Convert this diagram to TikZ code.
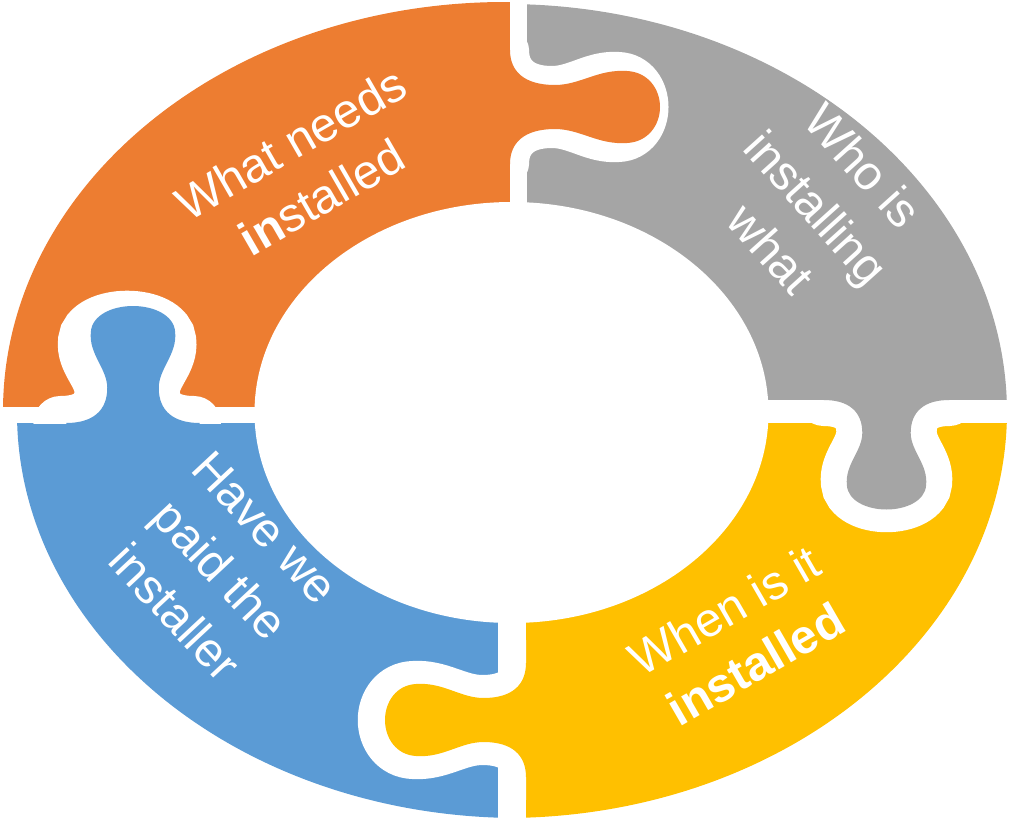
\documentclass[tikz,border=0pt]{standalone}
\usepackage{fontspec}
\setmainfont{Liberation Sans}

\definecolor{pzorange}{HTML}{ED7D31}
\definecolor{pzgray}{HTML}{A5A5A5}
\definecolor{pzyellow}{HTML}{FFC000}
\definecolor{pzblue}{HTML}{5B9BD5}

% outline of one tab: base on the edge of its piece, pointing along +x
\newcommand\tabcurve{(0,-57) .. controls (0,-35) and (15,-22) .. (45,-22)
  .. controls (70,-22) and (88,-38) .. (117,-36)
  .. controls (138,-35) and (150,-18) .. (150,0)
  .. controls (150,18) and (138,35) .. (117,36)
  .. controls (88,38) and (70,22) .. (45,22)
  .. controls (15,22) and (0,35) .. (0,57)}

% #1 colour, #2 placement, #3 width of the white cut, #4 shape of the cut
\newcommand\puzzletab[4]{%
\begin{scope}[#2]
  \begin{scope}
    \clip (0,-300) rectangle (300,300);
    \draw[white, line width=#3, line cap=round, #4] \tabcurve;
  \end{scope}
  \fill[#1] (-40,-57) -- \tabcurve -- (-40,57) -- cycle;
\end{scope}
}

% one quarter of the ring, cut from its own outer ellipse
% #1 colour, #2 centre, #3 vertical radius, #4 quarter
\newcommand\piece[4]{%
\begin{scope}
  \clip #2 ellipse [x radius=502, y radius=#3];
  \fill[#1] #4;
\end{scope}
}

\begin{document}
\begin{tikzpicture}[x=1pt, y=-1pt,
    piece text/.style={text=white, align=center,
      font=\fontsize{48}{62}\selectfont}]
	\useasboundingbox (0,0) rectangle (1010,822);

	%% the four quarters
	\piece{pzorange}{(505,411)}{409}{(0,0) rectangle (510,407)}
	\piece{pzgray}{(505,413)}{409}{(527,0) rectangle (1010,400)}
	\piece{pzyellow}{(505,411)}{407}{(526,423) rectangle (1010,822)}
	\piece{pzblue}{(519,413)}{405}{(0,423) rectangle (498,822)}

	%% tabs
	\puzzletab{pzorange}{shift={(510,107)}}{38}{xscale=0.93}
	\puzzletab{pzblue}{shift={(133,423)}, rotate=90, xscale=0.78, yscale=1.17}{54}{shift={(0,-5)}, xscale=0.9}
	\puzzletab{pzgray}{shift={(886.5,400)}, rotate=-90, xscale=0.73, yscale=1.1}{52}{xscale=0.97}
	\puzzletab{pzyellow}{shift={(526,720)}, rotate=180, xscale=0.94}{46}{xscale=1.03}

	% hole in the middle
	\fill[white] (511.5,412.5) ellipse [x radius=257, y radius=210.5];

	%% labels
	\node[piece text, rotate=30] (needs) at (306,170) {What needs\\\textbf{in}stalled};
	\node[piece text, rotate=-48] (who) at (817,207) {Who is\\installing\\what};
	\node[piece text, rotate=30] (when) at (740,637) {When is it\\\textbf{installed}};
	\node[piece text, rotate=-47] (paid) at (220,570) {Have we\\paid the\\installer};
\end{tikzpicture}
\end{document}
